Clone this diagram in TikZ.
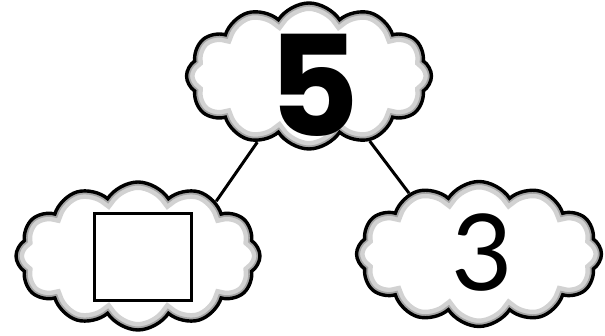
\documentclass[tikz,border=0pt]{standalone}
\usepackage{fontspec}
\usetikzlibrary{shapes.symbols}
\newfontfamily\digitfont{Poppins}
\newfontfamily\threefont{Lato}
\tikzset{
  cloudshape/.style={cloud, cloud puffs=12, cloud puff arc=115, cloud ignores aspect, inner sep=0pt},
  cloudbox/.style 2 args={cloudshape, fill=white, minimum width=#1, minimum height=#2,
    path picture={
      \node[cloudshape, draw=gray!35, line width=16pt, minimum width=#1, minimum height=#2] (fzA) at (path picture bounding box.center) {};
      \node[cloudshape, draw=gray!70, line width=7pt, minimum width=#1, minimum height=#2] (fzB) at (path picture bounding box.center) {};
    }},
  cloudline/.style 2 args={cloudshape, draw=black, line width=3.4pt, minimum width=#1, minimum height=#2},
  link/.style={draw=black, line width=3pt},
  digit/.style={inner sep=0pt}
}
\begin{document}
\begin{tikzpicture}[x=1pt,y=1pt]
\useasboundingbox (0,0) rectangle (605,336);
\node[cloudbox={245pt}{146pt}] (topfill) at (309,260) {};
\node[cloudbox={244pt}{148pt}] (leftfill) at (138,80) {};
\node[cloudbox={245pt}{145pt}] (rightfill) at (479,82) {};
\node[cloudline={245pt}{146pt}] (top) at (309,260) {};
\node[cloudline={244pt}{148pt}] (left) at (138,80) {};
\node[cloudline={245pt}{145pt}] (right) at (479,82) {};
\draw[link] (top.232) -- (left.35);
\draw[link] (top.313) -- (right.139);
\node[digit, font=\digitfont\bfseries\fontsize{140}{140}\selectfont] (five) at (314,251) {5};
\node[digit, font=\threefont\fontsize{106}{106}\selectfont] (three) at (482,83) {3};
\node[draw=black, line width=3pt, minimum width=97pt, minimum height=87pt, inner sep=0pt] (box) at (143,79) {};
\end{tikzpicture}
\end{document}
